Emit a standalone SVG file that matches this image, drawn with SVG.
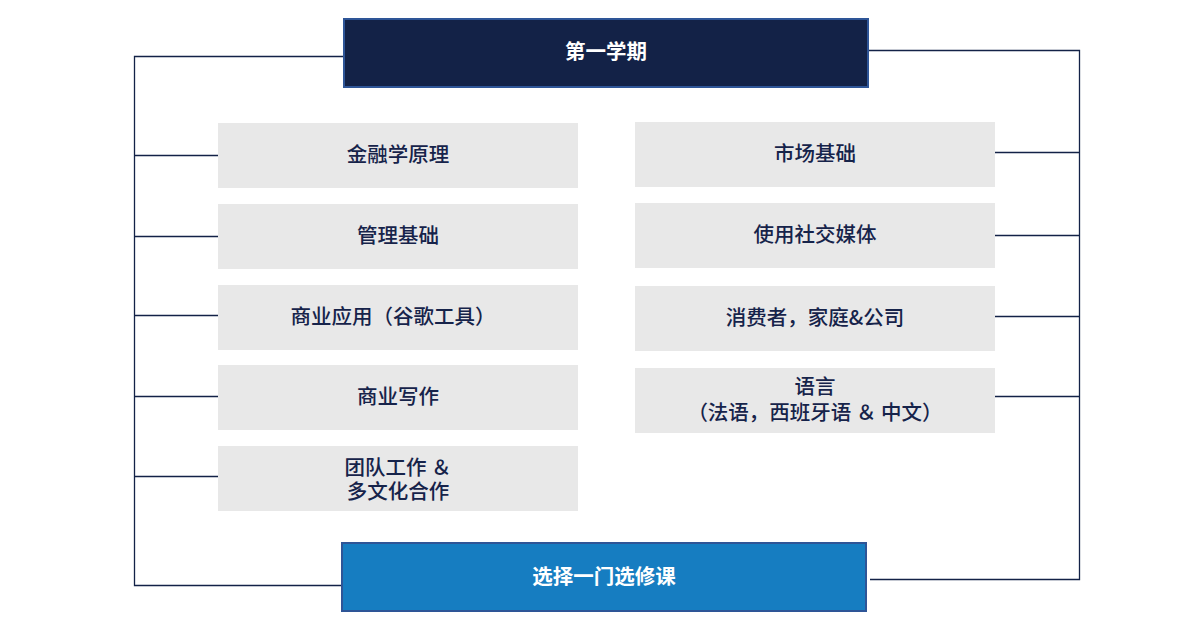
<svg xmlns="http://www.w3.org/2000/svg" width="1188" height="629" viewBox="0 0 1188 629">
<style>
.bg{fill:#ffffff}
.hdr{fill:#132247;stroke:#2e5597;stroke-width:2}
.ftr{fill:#167dc1;stroke:#2e5597;stroke-width:2}
.box{fill:#e8e8e8}
.ln{stroke:#132247;stroke-width:1.3;fill:none}
.t{font-family:"Noto Sans CJK SC","Liberation Sans",sans-serif;font-size:20.5px;font-weight:500;fill:#16234a;text-anchor:middle}
.tw{font-family:"Noto Sans CJK SC","Liberation Sans",sans-serif;font-size:20.5px;font-weight:700;fill:#ffffff;text-anchor:middle}
</style>
<rect class="bg" x="0" y="0" width="1188" height="629"/>
<g id="connectors">
<path class="ln" d="M343 56.5H134.5V585.5H341"/>
<path class="ln" d="M134.5 155.5H218M134.5 236.5H218M134.5 315.5H218M134.5 396.5H218M134.5 476.5H218"/>
<path class="ln" d="M869 50.5H1079.5V579.5H870"/>
<path class="ln" d="M995 152.5H1079.5M995 235.5H1079.5M995 316.5H1079.5M995 396.5H1079.5"/>
</g>
<g id="semester1">
<rect class="hdr" x="344" y="19" width="524" height="68"/>
<text class="tw" x="606" y="59">第一学期</text>
</g>
<g id="finance">
<rect class="box" x="218" y="123" width="360" height="65"/>
<text class="t" x="398" y="162">金融学原理</text>
</g>
<g id="management">
<rect class="box" x="218" y="204" width="360" height="65"/>
<text class="t" x="398" y="243">管理基础</text>
</g>
<g id="business-apps">
<rect class="box" x="218" y="285" width="360" height="65"/>
<text class="t" x="393" y="324">商业应用（谷歌工具）</text>
</g>
<g id="business-writing">
<rect class="box" x="218" y="365" width="360" height="65"/>
<text class="t" x="398" y="404">商业写作</text>
</g>
<g id="teamwork">
<rect class="box" x="218" y="446" width="360" height="65"/>
<text class="t" x="398" y="475">团队工作 ＆</text>
<text class="t" x="398" y="499">多文化合作</text>
</g>
<g id="marketing">
<rect class="box" x="635" y="122" width="360" height="65"/>
<text class="t" x="815" y="161">市场基础</text>
</g>
<g id="social-media">
<rect class="box" x="635" y="203" width="360" height="65"/>
<text class="t" x="815" y="242">使用社交媒体</text>
</g>
<g id="consumers">
<rect class="box" x="635" y="286" width="360" height="65"/>
<text class="t" x="815" y="325">消费者，家庭&amp;公司</text>
</g>
<g id="languages">
<rect class="box" x="635" y="368" width="360" height="65"/>
<text class="t" x="815" y="394">语言</text>
<text class="t" x="815" y="420">（法语，西班牙语 ＆ 中文）</text>
</g>
<g id="elective">
<rect class="ftr" x="342" y="543" width="524" height="68"/>
<text class="tw" x="604" y="584">选择一门选修课</text>
</g>
</svg>
